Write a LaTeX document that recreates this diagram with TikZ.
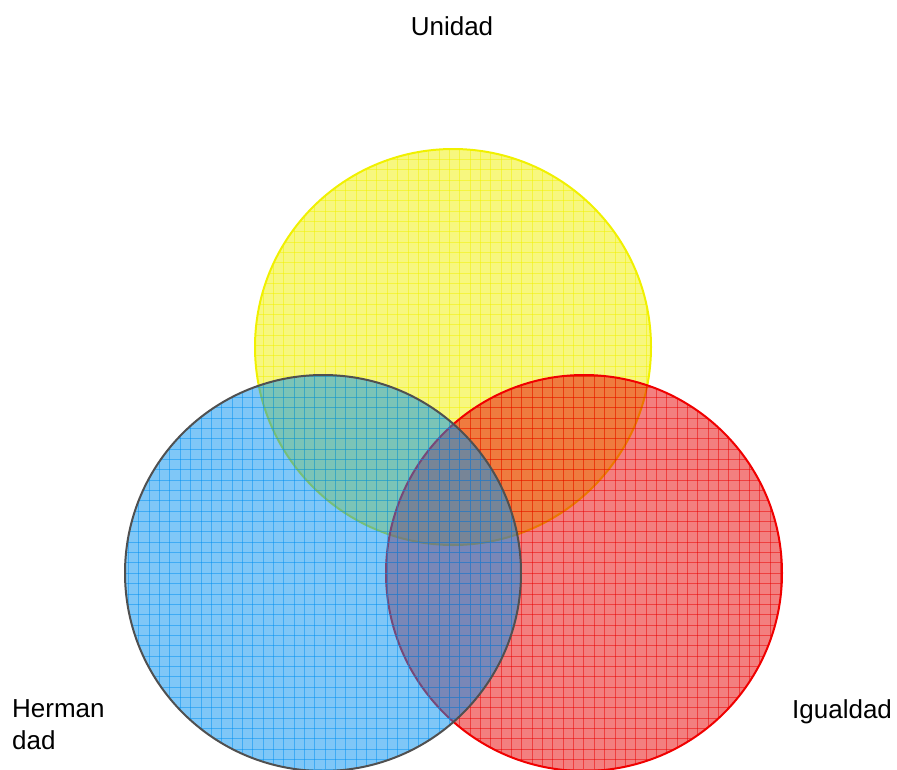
\documentclass[tikz,border=0pt]{standalone}
\usepackage{fontspec}
\setmainfont{Liberation Sans}
\definecolor{yel}{HTML}{F0F000}
\definecolor{blu}{HTML}{0090F0}
\definecolor{rd}{HTML}{E80000}
\definecolor{bluedge}{HTML}{505050}
\definecolor{rededge}{HTML}{F00000}
\newcommand{\vennGrid}[1]{%
  \foreach \i in {-42,...,48} {\draw[#1] (408+\i*10.35,0) -- (408+\i*10.35,769);}
  \foreach \j in {-16,...,60} {\draw[#1] (0,159.3+\j*10.35) -- (897,159.3+\j*10.35);}
}
\tikzset{
  gridline/.style={line width=1pt, draw opacity=0.5},
  lbl/.style={font=\fontsize{26}{32}\selectfont, inner sep=0pt},
}
\begin{document}
\begin{tikzpicture}[x=1pt,y=-1pt]
\useasboundingbox (0,0) rectangle (897,769);
\coordinate (cy) at (453,347);
\coordinate (cr) at (584,573);
\coordinate (cb) at (323,573);
% yellow
\fill[yel, fill opacity=0.5] (cy) circle[radius=198];
\begin{scope}
  \clip (cy) circle[radius=198];
  \vennGrid{yel, gridline}
\end{scope}
\draw[yel, line width=2pt] (cy) circle[radius=198];
% red
\fill[rd, fill opacity=0.5] (cr) circle[radius=198];
\begin{scope}
  \clip (cr) circle[radius=198];
  \vennGrid{rd, gridline}
\end{scope}
\draw[rededge, line width=2pt] (cr) circle[radius=198];
% blue
\fill[blu, fill opacity=0.5] (cb) circle[radius=198];
\begin{scope}
  \clip (cb) circle[radius=198];
  \vennGrid{blu, gridline}
\end{scope}
\draw[bluedge, line width=2pt] (cb) circle[radius=198];
% labels
\node[lbl, anchor=base] (u) at (452,35) {Unidad};
\node[lbl, anchor=base west, align=left] (h) at (12,749) {Herman\\dad};
\node[lbl, anchor=base west] (ig) at (792,718) {Igualdad};
\end{tikzpicture}
\end{document}
